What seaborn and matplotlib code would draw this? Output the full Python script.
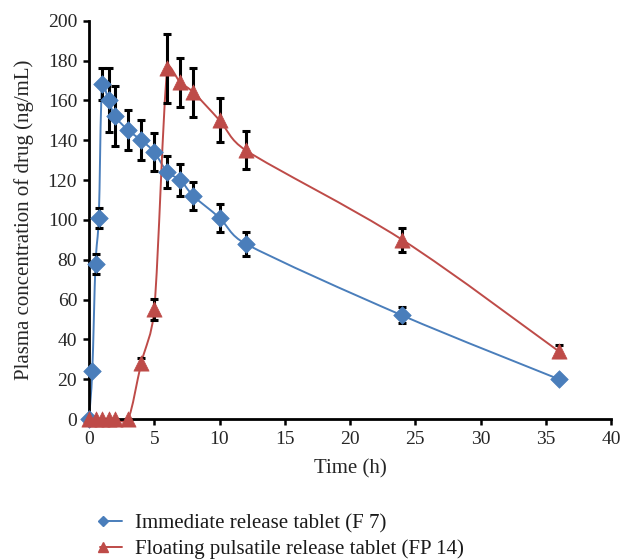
import numpy as np
import pandas as pd
import matplotlib
matplotlib.use("Agg")
import matplotlib.pyplot as plt
from matplotlib.path import Path
from matplotlib.patches import PathPatch
from matplotlib.legend_handler import HandlerLine2D
from matplotlib.lines import Line2D
import seaborn as sns

# Plasma concentration profiles (mean +/- SD)
time_ir = [0, 0.25, 0.5, 0.75, 1, 1.5, 2, 3, 4, 5, 6, 7, 8, 10, 12, 24, 36]
conc_ir = [0, 24, 78, 101, 168, 160, 152, 145, 140, 134, 124, 120, 112, 101, 88, 52, 20]
sd_ir = [0, 0, 5, 5, 8, 16, 15, 10, 10, 9.5, 8, 8, 7, 7, 6, 4, 1]

time_fp = [0, 0.5, 1, 1.5, 2, 3, 4, 5, 6, 7, 8, 10, 12, 24, 36]
conc_fp = [0, 0, 0, 0, 0, 0, 28, 55, 176, 169, 164, 150, 135, 90, 34]
sd_fp = [0, 0, 0, 0, 0, 0, 2.5, 5.5, 17.5, 12.5, 12.5, 11, 9.5, 6, 3]

label_ir = "Immediate release tablet (F 7)"
label_fp = "Floating pulsatile release tablet (FP 14)"
x_ticks = [0, 5, 10, 15, 20, 25, 30, 35, 40]
y_ticks = [0, 20, 40, 60, 80, 100, 120, 140, 160, 180, 200]

BLUE = "#4A7EBB"
RED = "#BE4B48"

sns.set_style("ticks")
plt.rcParams["font.family"] = ["Liberation Serif", "DejaVu Serif"]
plt.rcParams["text.color"] = "#1a1a1a"

W, H = 624, 559
AX_L, AX_B, AX_W, AX_H = 89, 140, 522, 398.3
XMAX, YMAX = 40, 200

fig = plt.figure(figsize=(W / 100, H / 100), dpi=100)
ax = fig.add_axes([AX_L / W, AX_B / H, AX_W / W, AX_H / H])


def smooth_path(xs, ys):
    """Bezier 'smoothed line': Catmull-Rom tangents (1/6 of the neighbour
    chord), limited to half the segment length, computed in pixel space."""
    sx, sy = AX_W / XMAX, AX_H / YMAX
    pts = np.column_stack([np.asarray(xs, float) * sx, np.asarray(ys, float) * sy])
    n = len(pts)
    verts = [pts[0]]
    codes = [Path.MOVETO]
    for i in range(n - 1):
        p0 = pts[i - 1] if i > 0 else pts[i]
        p1 = pts[i]
        p2 = pts[i + 1]
        p3 = pts[i + 2] if i + 2 < n else pts[i + 1]
        d12 = np.hypot(*(p2 - p1))
        t1 = (p2 - p0) / 6.0
        t2 = (p3 - p1) / 6.0
        for t in (t1, t2):
            L = np.hypot(*t)
            if L > d12 / 2 and L > 0:
                t *= (d12 / 2) / L
        c1 = p1 + t1
        c2 = p2 - t2
        verts += [c1, c2, p2]
        codes += [Path.CURVE4] * 3
    verts = np.array(verts) / np.array([sx, sy])
    return Path(verts, codes)


df_ir = pd.DataFrame({"t": time_ir, "c": conc_ir, "sd": sd_ir})
df_fp = pd.DataFrame({"t": time_fp, "c": conc_fp, "sd": sd_fp})

for df, col in [(df_ir, BLUE), (df_fp, RED)]:
    ax.add_patch(PathPatch(smooth_path(df["t"], df["c"]), fill=False,
                           edgecolor=col, lw=1.4, zorder=2))
    mask = df["sd"] > 0
    ax.errorbar(df["t"][mask], df["c"][mask], yerr=df["sd"][mask], fmt="none",
                ecolor="black", elinewidth=2.2, capsize=3.2, capthick=2.2,
                zorder=3)

sns.scatterplot(data=df_ir, x="t", y="c", marker="D", s=80, color=BLUE,
                edgecolor=BLUE, linewidth=0.5, zorder=4, ax=ax, legend=False)
sns.scatterplot(data=df_fp, x="t", y="c", marker="^", s=120, color=RED,
                edgecolor=RED, linewidth=0.5, zorder=4, ax=ax, legend=False)

ax.set_xlim(0, XMAX)
ax.set_ylim(0, YMAX)
ax.set_xticks(x_ticks)
ax.set_yticks(y_ticks)
ax.set_xlabel("Time (h)", fontsize=15, labelpad=8)
ax.set_ylabel("Plasma concentration of drug (ng/mL)", fontsize=15, labelpad=10)
ax.tick_params(axis="both", labelsize=14, width=1.8, length=4.5,
               direction="out", color="black")
ax.tick_params(axis="x", pad=4)
ax.tick_params(axis="y", pad=4)
for side in ["left", "bottom"]:
    ax.spines[side].set_linewidth(2)
    ax.spines[side].set_color("black")
for side in ["top", "right"]:
    ax.spines[side].set_visible(False)
for art in ax.collections + ax.patches + ax.lines:
    art.set_clip_on(False)


class LeftMarkerHandler(HandlerLine2D):
    """Legend key: a short line with the marker near its left end."""
    def create_artists(self, legend, orig_handle, xdescent, ydescent,
                       width, height, fontsize, trans):
        y = (height - ydescent) / 2
        x0, x1 = -xdescent, -xdescent + width
        line = Line2D([x0, x1], [y, y], color=orig_handle.get_color(),
                      lw=orig_handle.get_linewidth())
        mark = Line2D([x0 + 0.12 * width], [y], linestyle="none",
                      marker=orig_handle.get_marker(),
                      markersize=orig_handle.get_markersize(),
                      markerfacecolor=orig_handle.get_color(),
                      markeredgecolor=orig_handle.get_color())
        line.set_transform(trans)
        mark.set_transform(trans)
        return [line, mark]


handles = [
    Line2D([], [], color=BLUE, lw=1.4, marker="D", markersize=5.5),
    Line2D([], [], color=RED, lw=1.4, marker="^", markersize=7.5),
]
fig.legend(handles, [label_ir, label_fp], loc="upper left",
           bbox_to_anchor=(100 / W, 1 - 514 / H), frameon=False,
           fontsize=15, handlelength=1.05, handletextpad=0.65,
           labelspacing=0.28, borderpad=0, borderaxespad=0,
           handler_map={Line2D: LeftMarkerHandler()})

fig.savefig("out.png", dpi=100)
